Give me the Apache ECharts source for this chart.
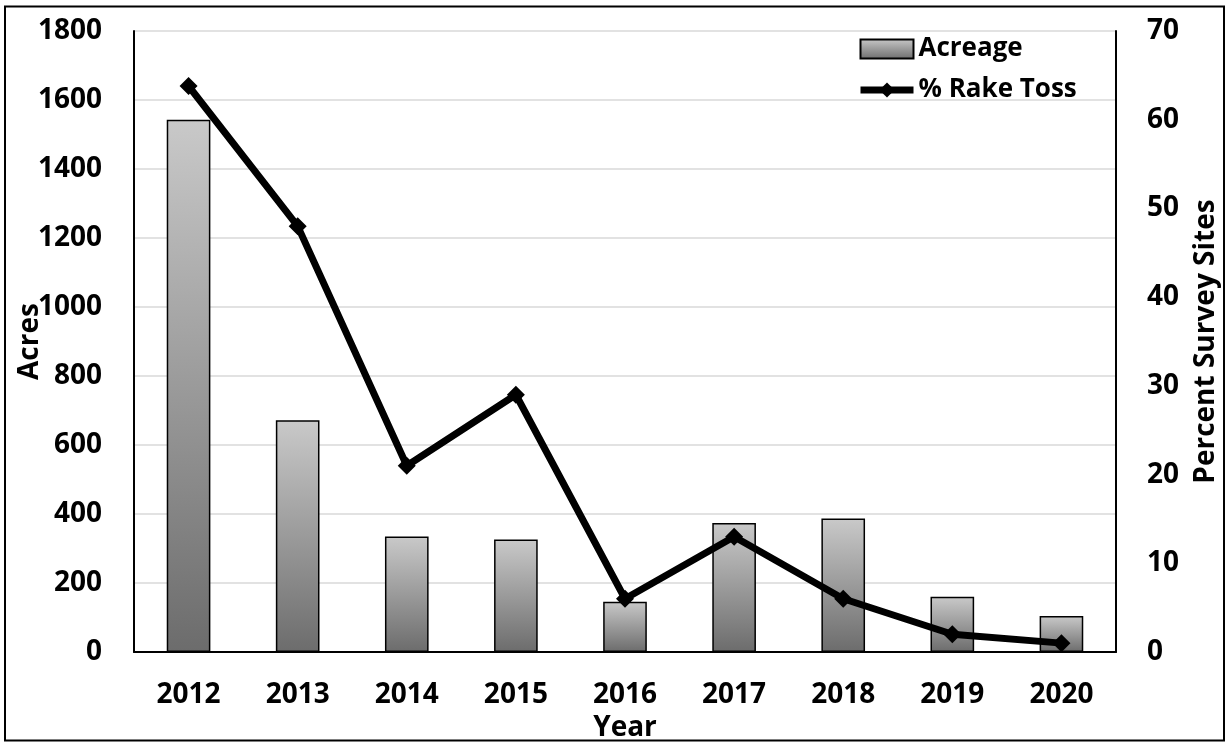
<!DOCTYPE html>
<html>
<head>
<meta charset="utf-8">
<script src="https://cdn.jsdelivr.net/npm/echarts@6/dist/echarts.min.js"></script>
<style>
  html, body { margin: 0; padding: 0; background: #fff; }
  #chart { width: 1228px; height: 746px; }
</style>
</head>
<body>
<div id="chart"></div>
<script>
// Survey years
const years = ['2012', '2013', '2014', '2015', '2016', '2017', '2018', '2019', '2020'];
// Infested acreage per year
const acreage = [1543, 672, 335, 326, 146, 374, 387, 160, 104];
// Share of survey sites with plants found by rake toss (%)
const rakeToss = [63.8, 48, 21, 29, 6, 13, 6, 2, 1];
// Axis tick ranges
const acresAxis = { min: 0, max: 1800, interval: 200 };
const percentAxis = { min: 0, max: 70, interval: 10 };

const FONT = '"Open Sans", Lato, sans-serif';
const chart = echarts.init(document.getElementById('chart'), null, { renderer: 'canvas' });

const labelStyle = { fontFamily: FONT, fontWeight: 'bold', fontSize: 28, color: '#000' };
const plain = v => String(v);

chart.setOption({
  backgroundColor: '#fff',
  animation: false,
  grid: { left: 134, right: 112, top: 31, bottom: 94, containLabel: false, outerBoundsMode: 'none' },
  legend: {
    orient: 'vertical',
    left: 852,
    top: 31,
    itemWidth: 53,
    itemHeight: 19,
    itemGap: 15,
    textStyle: Object.assign({}, labelStyle, { fontSize: 26 }),
    lineStyle: { width: 7 },
    data: [{ name: 'Acreage', icon: 'rect' }, { name: '% Rake Toss' }]
  },
  graphic: [{
    type: 'rect',
    shape: { x: 5, y: 6.5, width: 1219, height: 734 },
    style: { fill: 'none', stroke: '#000', lineWidth: 2 },
    silent: true
  }],
  xAxis: {
    type: 'category',
    data: years,
    name: 'Year',
    nameLocation: 'middle',
    nameGap: 60,
    nameTextStyle: labelStyle,
    axisLine: { lineStyle: { color: '#000', width: 2 } },
    axisTick: { show: false },
    axisLabel: Object.assign({ margin: 29 }, labelStyle)
  },
  yAxis: [{
    type: 'value',
    min: acresAxis.min, max: acresAxis.max, interval: acresAxis.interval,
    name: 'Acres',
    nameLocation: 'middle',
    nameRotate: 90,
    nameGap: 90,
    nameMoveOverlap: false,
    nameTextStyle: labelStyle,
    axisLine: { show: true, lineStyle: { color: '#000', width: 2 } },
    axisTick: { show: false },
    axisLabel: Object.assign({ margin: 32, formatter: plain }, labelStyle),
    splitLine: { lineStyle: { color: '#d9d9d9', width: 1.5 } }
  }, {
    type: 'value',
    min: percentAxis.min, max: percentAxis.max, interval: percentAxis.interval,
    name: 'Percent Survey Sites',
    nameLocation: 'middle',
    nameRotate: 90,
    nameGap: 76,
    nameMoveOverlap: false,
    nameTextStyle: labelStyle,
    axisLine: { show: true, lineStyle: { color: '#000', width: 2 } },
    axisTick: { show: false },
    axisLabel: Object.assign({ margin: 31, formatter: plain }, labelStyle),
    splitLine: { show: false }
  }],
  series: [{
    name: 'Acreage',
    type: 'bar',
    yAxisIndex: 0,
    data: acreage,
    barWidth: '40%',
    itemStyle: {
      color: new echarts.graphic.LinearGradient(0, 0, 0, 1, [
        { offset: 0, color: '#c9c9c9' },
        { offset: 1, color: '#6c6c6c' }
      ]),
      borderColor: '#000',
      borderWidth: 1.5
    }
  }, {
    name: '% Rake Toss',
    type: 'line',
    yAxisIndex: 1,
    data: rakeToss,
    symbol: 'diamond',
    symbolSize: 18,
    lineStyle: { color: '#000', width: 7 },
    itemStyle: { color: '#000' },
    z: 5
  }]
});
</script>
</body>
</html>
